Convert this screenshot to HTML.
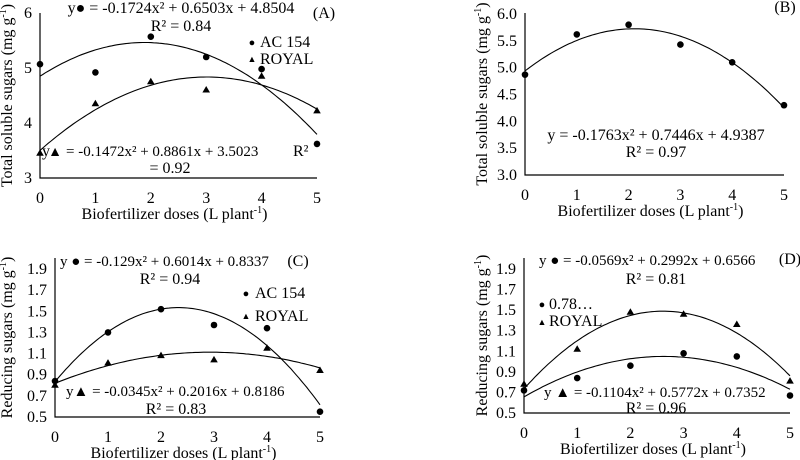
<!DOCTYPE html>
<html><head><meta charset="utf-8"><style>
html,body{margin:0;padding:0;background:#fff;}
svg{display:block;}
svg text{font-family:"Liberation Serif","Times New Roman",Times,"DejaVu Serif",serif;}
</style></head><body>
<svg id="chart" width="800" height="460" viewBox="0 0 800 460" xmlns="http://www.w3.org/2000/svg"></svg>
<script>
const doses = [0,1,2,3,4,5];
const xTicks = ["0","1","2","3","4","5"];
// Panel A
const aCircle = [5.07,4.92,5.57,5.2,4.98,3.62];
const aTriangle = [3.45,4.35,4.75,4.6,4.85,4.22];
const aCircleCoef = [-0.1724,0.6503,4.8504];
const aTriangleCoef = [-0.1472,0.8861,3.5023];
const aYTicks = [3,4,5,6];
// Panel B
const bCircle = [4.87,5.62,5.8,5.43,5.1,4.3];
const bCircleCoef = [-0.1763,0.7446,4.9387];
const bYTicks = ["3.0","3.5","4.0","4.5","5.0","5.5","6.0"];
// Panel C
const cCircle = [0.84,1.30,1.52,1.37,1.34,0.55];
const cTriangle = [0.80,1.01,1.08,1.04,1.15,0.94];
const cCircleCoef = [-0.129,0.6014,0.8337];
const cTriangleCoef = [-0.0345,0.2016,0.8186];
const cYTicks = ["0.5","0.7","0.9","1.1","1.3","1.5","1.7","1.9"];
// Panel D
const dCircle = [0.72,0.84,0.96,1.08,1.05,0.67];
const dTriangle = [0.78,1.12,1.48,1.46,1.36,0.81];
const dCircleCoef = [-0.0569,0.2992,0.6566];
const dTriangleCoef = [-0.1104,0.5772,0.7352];
const dYTicks = cYTicks;

const svg = document.getElementById('chart');
const NS = 'http://www.w3.org/2000/svg';
function mk(tag, attrs, parent){const e=document.createElementNS(NS,tag);for(const k in attrs)e.setAttribute(k,attrs[k]);(parent||svg).appendChild(e);return e;}
function txt(s,x,y,size,anchor,parent,name){const t=mk('text',{x:x,y:y,'font-size':size,'text-anchor':anchor||'middle',fill:'#000'},parent);t.textContent=s;


return t;}

function panel(p){
  const g = mk('g',{});
  
  
  const X = v => p.x0 + (p.x5-p.x0)*v/5;
  const Y = v => p.yb + (p.yt-p.yb)*(v-p.vmin)/(p.vmax-p.vmin);
  const ax = mk('path',{d:`M${p.x0} ${p.axTop} V${p.yb} H${p.x5}`,stroke:'#000','stroke-width':1.2,fill:'none'},g);
  
  
  p.yTicks.forEach(t=>{txt(String(t), p.x0-8, Y(parseFloat(t))+5, 16,'end',g,'y-tick-label');});
  xTicks.forEach((t,i)=>{txt(t, X(doses[i]), p.yb+25, 16,'middle',g,'x-tick-label');});
  const xt = txt('Biofertilizer  doses  (L plant', (p.x0+p.x5)/2-4, p.yb+41, 16,'middle',g,'x-axis-title');
  const sup = mk('tspan',{dy:-6,'font-size':10},xt); sup.textContent='-1';
  const sup2 = mk('tspan',{dy:6},xt); sup2.textContent=')';
  const yt = txt('', 0,0,16,'middle',g,'y-axis-title');
  yt.setAttribute('transform',`translate(${p.ytx},${(p.axTop+p.yb)/2}) rotate(-90)`);
  yt.textContent = p.ytitle + ' (mg g';
  const s1 = mk('tspan',{dy:-6,'font-size':10},yt); s1.textContent='-1';
  const s2 = mk('tspan',{dy:6},yt); s2.textContent=')';
  p.series.forEach(s=>{
    let d='';
    for(let i=0;i<=100;i++){const x=5*i/100;const v=s.coef[0]*x*x+s.coef[1]*x+s.coef[2];d+=(i?'L':'M')+X(x).toFixed(1)+' '+Y(v).toFixed(1);}
    const c = mk('path',{d:d,stroke:'#000','stroke-width':1.1,fill:'none'},g);
    
    
    s.vals.forEach((v,i)=>{
      let m;
      if(s.shape==='c'){m=mk('circle',{cx:X(doses[i]),cy:Y(v),r:3.3,fill:'#000'},g);}
      else{const x=X(doses[i]),y=Y(v);m=mk('path',{d:`M${x} ${y-4}L${x+3.8} ${y+2.5}L${x-3.8} ${y+2.5}Z`,fill:'#000'},g);}
      
      
    });
  });
  p.texts.forEach(t=>txt(t[0],t[1],t[2],t[3]||16,t[4]||'middle',g,t[5]||'annotation'));
}

panel({name:'panel-a',x0:40,x5:317,yb:178,yt:13,axTop:13,vmin:3,vmax:6,yTicks:aYTicks,ytx:12,ytitle:'Total soluble sugars',
 series:[{name:'ac154',shape:'c',vals:aCircle,coef:aCircleCoef},{name:'royal',shape:'t',vals:aTriangle,coef:aTriangleCoef}],
 texts:[['y● = -0.1724x² + 0.6503x + 4.8504',181,13,16,'middle','equation-ac154'],['R² = 0.84',181,31,16,'middle','r2-ac154'],['(A)',324,18,16,'middle','panel-label'],
  ['AC 154',260,47,16,'start','legend-ac154'],['ROYAL',260,64,16,'start','legend-royal'],['●',252,46,11,'middle','legend-marker'],['▲',252,62,9,'middle','legend-marker'],
  ['y',42,156,16,'start','equation-royal'],['▲',55,156,14,'middle','equation-royal-marker'],['= -0.1472x² + 0.8861x + 3.5023',66,156,15,'start','equation-royal'],['R²',293,156,16,'start','r2-royal'],['= 0.92',170,173,16,'middle','r2-royal']]});

panel({name:'panel-b',x0:525,x5:784,yb:175,yt:14,axTop:13,vmin:3,vmax:6,yTicks:bYTicks,ytx:487,ytitle:'Total soluble sugars',
 series:[{name:'ac154',shape:'c',vals:bCircle,coef:bCircleCoef}],
 texts:[['y = -0.1763x² + 0.7446x + 4.9387',656,140,16,'middle','equation'],['R² = 0.97',656,157,16,'middle','r2'],['(B)',785,12,16,'middle','panel-label']]});

panel({name:'panel-c',x0:55,x5:320,yb:417,yt:258.4,axTop:258,vmin:0.5,vmax:2.0,yTicks:cYTicks,ytx:12,ytitle:'Reducing sugars',
 series:[{name:'ac154',shape:'c',vals:cCircle,coef:cCircleCoef},{name:'royal',shape:'t',vals:cTriangle,coef:cTriangleCoef}],
 texts:[['y ● = -0.129x² + 0.6014x + 0.8337',60,266,15,'start','equation-ac154'],['R² = 0.94',170,284,16,'middle','r2-ac154'],['(C)',298,266,16,'middle','panel-label'],
  ['AC 154',255,298,16,'start','legend-ac154'],['ROYAL',255,321,16,'start','legend-royal'],['●',246,297,11,'middle','legend-marker'],['▲',246,319,9,'middle','legend-marker'],
  ['y▲ = -0.0345x² + 0.2016x + 0.8186',66,396,15,'start','equation-royal'],['R² = 0.83',176,414,16,'middle','r2-royal']]});

panel({name:'panel-d',x0:524,x5:790,yb:413,yt:258.7,axTop:258,vmin:0.5,vmax:2.0,yTicks:dYTicks,ytx:487,ytitle:'Reducing sugars',
 series:[{name:'ac154',shape:'c',vals:dCircle,coef:dCircleCoef},{name:'royal',shape:'t',vals:dTriangle,coef:dTriangleCoef}],
 texts:[['y ● = -0.0569x² + 0.2992x + 0.6566',539,265,15,'start','equation-ac154'],['R² = 0.81',656,284,16,'middle','r2-ac154'],['(D)',790,264,16,'middle','panel-label'],
  ['0.78…',549,309,16,'start','legend-ac154'],['ROYAL',549,326,16,'start','legend-royal'],['●',542,308,11,'middle','legend-marker'],['▲',542,325,9,'middle','legend-marker'],
  ['y ▲ = -0.1104x² + 0.5772x + 0.7352',544,397,15,'start','equation-royal'],['R² = 0.96',656,413,16,'middle','r2-royal']]});
</script>
</body></html>
